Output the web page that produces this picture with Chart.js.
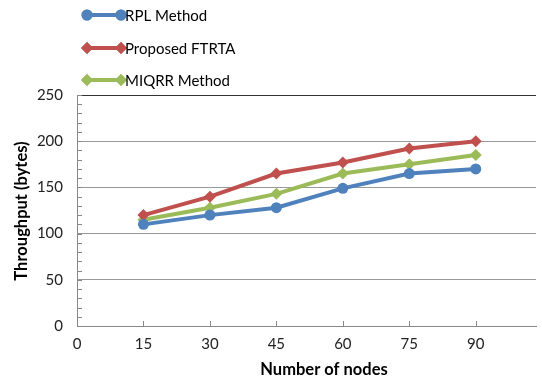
<!DOCTYPE html>
<html>
<head>
<meta charset="utf-8">
<script src="https://cdn.jsdelivr.net/npm/chart.js@4/dist/chart.umd.min.js"></script>
<style>
  html, body { margin: 0; padding: 0; background: #fff; }
  #wrap { width: 542px; height: 383px; position: relative; }
</style>
</head>
<body>
<div id="wrap"><canvas id="c" width="542" height="383"></canvas></div>
<script>
// Number of nodes on the x axis
const nodes = [15, 30, 45, 60, 75, 90];
const xTicks = [0, 15, 30, 45, 60, 75, 90];
const yTicks = [0, 50, 100, 150, 200, 250];

// Throughput (bytes) per method
const rplMethod = [110, 120, 128, 149, 165, 170];
const proposedFtrta = [120, 140, 165, 177, 192, 200];
const miqrrMethod = [115, 128, 143, 165, 175, 185];

const seriesNames = ['RPL Method', 'Proposed FTRTA', 'MIQRR Method'];

const FONT = 'Lato, "Open Sans", sans-serif';
const colors = ['#4F81BD', '#C0504D', '#9BBB59'];
const styles = ['circle', 'rectRot', 'rectRot'];
const radii = [5.5, 6, 6];

function toPoints(vals) {
  return nodes.map((n, i) => ({ x: n, y: vals[i] }));
}

const datasets = [rplMethod, proposedFtrta, miqrrMethod].map((vals, i) => ({
  label: seriesNames[i],
  data: toPoints(vals),
  borderColor: colors[i],
  backgroundColor: colors[i],
  borderWidth: 4,
  pointStyle: styles[i],
  pointRadius: radii[i],
  pointBorderWidth: 0,
  tension: 0,
  clip: false
}));

// Inside tick marks, axis titles and the stacked legend
const decorations = {
  id: 'decorations',
  afterDraw(chart) {
    const ctx = chart.ctx;
    const xs = chart.scales.x, ys = chart.scales.y;
    const area = chart.chartArea;
    ctx.save();
    ctx.strokeStyle = '#888';
    ctx.lineWidth = 1;
    // minor ticks on the value axis every 10
    for (let v = 0; v <= 250; v += 10) {
      const y = Math.round(ys.getPixelForValue(v)) + 0.5;
      ctx.beginPath();
      ctx.moveTo(area.left, y);
      ctx.lineTo(area.left + 5, y);
      ctx.stroke();
    }
    // tick marks on the node axis
    xTicks.forEach(v => {
      if (v === 0) return;
      const x = Math.round(xs.getPixelForValue(v)) + 0.5;
      ctx.beginPath();
      ctx.moveTo(x, area.bottom);
      ctx.lineTo(x, area.bottom - 5);
      ctx.stroke();
    });

    // axis titles
    ctx.fillStyle = '#000';
    ctx.font = 'bold 16.5px ' + FONT;
    ctx.textAlign = 'center';
    ctx.textBaseline = 'middle';
    ctx.fillText('Number of nodes', 324, 370);
    ctx.save();
    ctx.translate(22, 211);
    ctx.rotate(-Math.PI / 2);
    ctx.fillText('Throughput (bytes)', 0, 0);
    ctx.restore();

    // legend: line sample with a marker at each end
    const rowsY = [15, 48, 80];
    chart.data.datasets.forEach((ds, i) => {
      const y = rowsY[i];
      const x0 = 87, x1 = 121;
      ctx.strokeStyle = ds.borderColor;
      ctx.lineWidth = 4;
      ctx.beginPath();
      ctx.moveTo(x0, y);
      ctx.lineTo(x1, y);
      ctx.stroke();
      ctx.fillStyle = ds.backgroundColor;
      [x0, x1].forEach(px => {
        Chart.helpers.drawPoint(ctx, {
          pointStyle: ds.pointStyle,
          radius: ds.pointRadius,
          rotation: 0,
          borderWidth: 0
        }, px, y);
        ctx.fill();
      });
      ctx.fillStyle = '#000';
      ctx.font = '15px ' + FONT;
      ctx.textAlign = 'left';
      ctx.textBaseline = 'middle';
      ctx.fillText(ds.label, 125, y + 1);
    });
    ctx.restore();
  }
};

new Chart(document.getElementById('c'), {
  type: 'line',
  data: { datasets },
  options: {
    responsive: false,
    animation: false,
    layout: { padding: { top: 95, left: 0, right: 0, bottom: 0 } },
    plugins: { legend: { display: false }, tooltip: { enabled: false } },
    scales: {
      x: {
        type: 'linear',
        min: 0,
        max: 103.6,
        afterBuildTicks(scale) {
          scale.ticks = xTicks.map(v => ({ value: v }));
        },
        afterFit(scale) { scale.height = 57; },
        ticks: {
          color: '#222',
          font: { family: FONT, size: 15 },
          padding: 9,
          maxRotation: 0
        },
        grid: { display: false, drawTicks: false },
        border: { display: true, color: '#888', width: 1 }
      },
      y: {
        min: 0,
        max: 250,
        afterBuildTicks(scale) {
          scale.ticks = yTicks.map(v => ({ value: v }));
        },
        afterFit(scale) { scale.width = 77; },
        ticks: {
          color: '#222',
          font: { family: FONT, size: 15 },
          padding: 14
        },
        grid: {
          drawTicks: false,
          color: c => (c.tick.value === 250 ? '#333' : (c.tick.value === 0 ? 'rgba(0,0,0,0)' : '#999')),
          lineWidth: 1
        },
        border: { display: true, color: '#888', width: 1 }
      }
    }
  },
  plugins: [decorations]
});
</script>
</body>
</html>
